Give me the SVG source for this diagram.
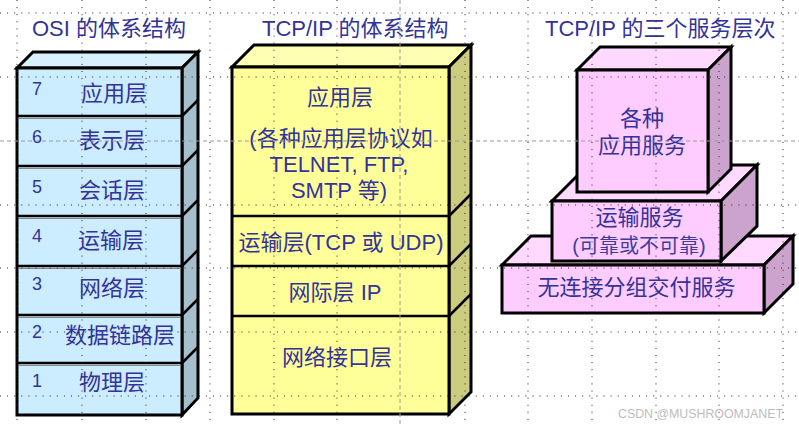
<svg xmlns="http://www.w3.org/2000/svg" width="799" height="426" viewBox="0 0 799 426">
<style>
  .t{font-family:"Liberation Sans","Noto Sans CJK SC",sans-serif;fill:#333399;}
  .ttl{font-size:22px;}
  .lab{font-size:22px;}
  .num{font-size:18px;}
  .ol{stroke:#000;stroke-width:3;stroke-linejoin:miter;}
  .dv{stroke:#000;stroke-width:2.5;}
  .sh{stroke:#8a8a8a;stroke-width:1;}
  .grid line{stroke:#222;stroke-width:1;stroke-dasharray:1 6.1;}
  .guide line{stroke:#9a9a9a;stroke-width:1;stroke-dasharray:4 3;}
</style>
<rect width="799" height="426" fill="#fff"/>

<g id="titles">
  <text class="t ttl" x="32" y="36">OSI 的体系结构</text>
  <text class="t ttl" x="262" y="36">TCP/IP 的体系结构</text>
  <text class="t ttl" x="545" y="36">TCP/IP 的三个服务层次</text>
</g>

<g id="osi">
  <polygon class="ol" points="17,68 33,52 198,52 182,68" fill="#D9F1FF"/>
  <polygon class="ol" points="182,68 198,52 198,398 182,415" fill="#A6BFCC"/>
  <rect class="ol" x="17" y="68" width="165" height="347" fill="#CCECFF"/>
  <g>
    <line class="dv" x1="17" y1="116" x2="182" y2="116"/><line class="sh" x1="19" y1="118.5" x2="181" y2="118.5"/>
    <line class="dv" x1="17" y1="166" x2="182" y2="166"/><line class="sh" x1="19" y1="168.5" x2="181" y2="168.5"/>
    <line class="dv" x1="17" y1="216" x2="182" y2="216"/><line class="sh" x1="19" y1="218.5" x2="181" y2="218.5"/>
    <line class="dv" x1="17" y1="266" x2="182" y2="266"/><line class="sh" x1="19" y1="268.5" x2="181" y2="268.5"/>
    <line class="dv" x1="17" y1="315" x2="182" y2="315"/><line class="sh" x1="19" y1="317.5" x2="181" y2="317.5"/>
    <line class="dv" x1="17" y1="363" x2="182" y2="363"/><line class="sh" x1="19" y1="365.5" x2="181" y2="365.5"/>
    <line class="dv" x1="182" y1="116" x2="198" y2="100"/>
    <line class="dv" x1="182" y1="166" x2="198" y2="150"/>
    <line class="dv" x1="182" y1="216" x2="198" y2="200"/>
    <line class="dv" x1="182" y1="266" x2="198" y2="250"/>
    <line class="dv" x1="182" y1="315" x2="198" y2="299"/>
    <line class="dv" x1="182" y1="363" x2="198" y2="347"/>
  </g>
  <g id="osi-7"><text class="t num" x="32" y="95">7</text><text class="t lab" x="81" y="101">应用层</text></g>
  <g id="osi-6"><text class="t num" x="32" y="143">6</text><text class="t lab" x="79" y="148">表示层</text></g>
  <g id="osi-5"><text class="t num" x="32" y="193">5</text><text class="t lab" x="79" y="198">会话层</text></g>
  <g id="osi-4"><text class="t num" x="32" y="242">4</text><text class="t lab" x="78" y="248">运输层</text></g>
  <g id="osi-3"><text class="t num" x="32" y="290">3</text><text class="t lab" x="79" y="296">网络层</text></g>
  <g id="osi-2"><text class="t num" x="32" y="338">2</text><text class="t lab" x="65" y="343">数据链路层</text></g>
  <g id="osi-1"><text class="t num" x="32" y="387">1</text><text class="t lab" x="79" y="390">物理层</text></g>
</g>

<g id="tcpip">
  <polygon class="ol" points="232,67 254,45 471,45 449,67" fill="#FFFFB3"/>
  <polygon class="ol" points="449,67 471,45 471,392 449,414" fill="#CCCC7F"/>
  <rect class="ol" x="232" y="67" width="217" height="347" fill="#FFFF99"/>
  <line class="dv" x1="232" y1="216" x2="449" y2="216"/>
  <line class="dv" x1="232" y1="266" x2="449" y2="266"/>
  <line class="dv" x1="232" y1="316" x2="449" y2="316"/>
  <line class="dv" x1="449" y1="216" x2="471" y2="194"/>
  <line class="dv" x1="449" y1="266" x2="471" y2="244"/>
  <line class="dv" x1="449" y1="316" x2="471" y2="294"/>
  <g id="tcp-app" text-anchor="middle">
    <text class="t lab" x="340" y="105">应用层</text>
    <text class="t lab" x="341" y="146">(各种应用层协议如</text>
    <text class="t lab" x="339" y="172">TELNET, FTP,</text>
    <text class="t lab" x="339" y="198">SMTP 等)</text>
  </g>
  <g id="tcp-transport"><text class="t lab" x="341" y="250" text-anchor="middle">运输层(TCP 或 UDP)</text></g>
  <g id="tcp-internet"><text class="t lab" x="335" y="300" text-anchor="middle">网际层 IP</text></g>
  <g id="tcp-link"><text class="t lab" x="337" y="365" text-anchor="middle">网络接口层</text></g>
</g>

<g id="services">
  <g id="svc-bottom">
    <polygon class="ol" points="502,265 531,236 793,236 764,265" fill="#FFD9FF"/>
    <polygon class="ol" points="764,265 793,236 793,284 764,313" fill="#CCA3CC"/>
    <rect class="ol" x="502" y="265" width="262" height="48" fill="#FFCCFF"/>
    <text class="t lab" x="636.5" y="295" text-anchor="middle">无连接分组交付服务</text>
  </g>
  <g id="svc-middle">
    <polygon class="ol" points="552,201 588,165 757,165 721,201" fill="#FFD9FF"/>
    <polygon class="ol" points="721,201 757,165 757,226 721,261" fill="#CCA3CC"/>
    <rect class="ol" x="552" y="201" width="169" height="60" fill="#FFCCFF"/>
    <text class="t lab" x="639.5" y="225" text-anchor="middle">运输服务</text>
    <text class="t" style="font-size:20px;fill:#3d3d9e" x="639" y="253" text-anchor="middle">(可靠或不可靠)</text>
  </g>
  <g id="svc-top">
    <polygon class="ol" points="577,70 600,47 731,47 708,70" fill="#FFD9FF"/>
    <polygon class="ol" points="708,70 731,47 731,169 708,192" fill="#CCA3CC"/>
    <rect class="ol" x="577" y="70" width="131" height="122" fill="#FFCCFF"/>
    <text class="t lab" x="642" y="126" text-anchor="middle">各种</text>
    <text class="t lab" x="642" y="153" text-anchor="middle">应用服务</text>
  </g>
</g>

<g id="connectors"/>

<g class="grid">
  <line x1="0" y1="13" x2="799" y2="13"/>
  <line x1="0" y1="77" x2="799" y2="77"/>
  <line x1="0" y1="205" x2="799" y2="205"/>
  <line x1="0" y1="268" x2="799" y2="268"/>
  <line x1="0" y1="332" x2="799" y2="332"/>
  <line x1="0" y1="396" x2="799" y2="396"/>
  <line x1="17" y1="0" x2="17" y2="426"/>
  <line x1="82" y1="0" x2="82" y2="426"/>
  <line x1="146" y1="0" x2="146" y2="426"/>
  <line x1="210" y1="0" x2="210" y2="426"/>
  <line x1="274" y1="0" x2="274" y2="426"/>
  <line x1="337" y1="0" x2="337" y2="426"/>
  <line x1="465" y1="0" x2="465" y2="426"/>
  <line x1="528" y1="0" x2="528" y2="426"/>
  <line x1="592" y1="0" x2="592" y2="426"/>
  <line x1="656" y1="0" x2="656" y2="426"/>
  <line x1="719" y1="0" x2="719" y2="426"/>
  <line x1="783" y1="0" x2="783" y2="426"/>
</g>
<g class="guide">
  <line x1="0" y1="141" x2="799" y2="141"/>
  <line x1="400" y1="0" x2="400" y2="426"/>
</g>

<text x="618" y="418" font-family="Liberation Sans, sans-serif" font-size="13" fill="#bdbdbd" textLength="165" lengthAdjust="spacingAndGlyphs">CSDN @MUSHROOMJANET</text>
</svg>
